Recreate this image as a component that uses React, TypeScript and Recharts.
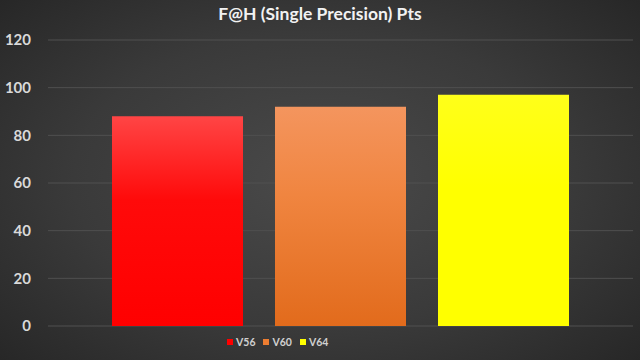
import React from 'react';
import { BarChart, Bar, XAxis, YAxis, CartesianGrid, Legend } from 'recharts';

const title = 'F@H (Single Precision) Pts';
const seriesNames = ['V56', 'V60', 'V64'];
const seriesValues = [88, 92, 97];
const seriesColors = ['#ff0000', '#ed7d31', '#ffff00'];
const yTicks = [0, 20, 40, 60, 80, 100, 120];

const data = [
  seriesNames.reduce((row: Record<string, any>, name, i) => {
    row[name] = seriesValues[i];
    return row;
  }, { name: 'F@H' } as Record<string, any>),
];

const gradients = [
  { id: 'gV56', top: '#ff4545', mid: '#ff0a0a', bottom: '#ff0000' },
  { id: 'gV60', top: '#f4955e', mid: '#f08540', bottom: '#e26b1c' },
  { id: 'gV64', top: '#ffff1a', mid: '#ffff00', bottom: '#ffff00' },
];

const FONT = 'Lato, "Open Sans", sans-serif';

const LegendContent = (props: any) => {
  const { payload } = props;
  return (
    <div style={{ display: 'flex', alignItems: 'center', paddingTop: 10, fontFamily: FONT, fontWeight: 700, fontSize: 10.5, color: '#d0d0d0' }}>
      {(payload || []).map((p: any, i: number) => (
        <div key={i} style={{ display: 'flex', alignItems: 'center', marginRight: 8 }}>
          <div style={{ width: 6, height: 6, background: seriesColors[i], marginRight: 3 }} />
          <span>{p.value}</span>
        </div>
      ))}
    </div>
  );
};

export default function App() {
  return (
    <div
      style={{
        position: 'absolute',
        left: 0,
        top: 0,
        width: 640,
        height: 360,
        background: 'radial-gradient(ellipse 70% 75% at 50% 50%, #4a4a4a 0%, #3a3a3a 55%, #262626 100%)',
        overflow: 'hidden',
      }}
    >
      <div
        style={{
          position: 'absolute',
          top: 3,
          left: 0,
          width: 640,
          textAlign: 'center',
          fontFamily: FONT,
          fontWeight: 700,
          fontSize: 17.5,
          color: '#f2f2f2',
        }}
      >
        {title}
      </div>
      <BarChart
        width={640}
        height={360}
        data={data}
        margin={{ top: 40, right: 7, bottom: 8, left: 0 }}
        barSize={131}
        barGap={32}
      >
        <defs>
          {gradients.map((g) => (
            <linearGradient key={g.id} id={g.id} x1="0" y1="0" x2="0" y2="1">
              <stop offset="0%" stopColor={g.top} />
              <stop offset="40%" stopColor={g.mid} />
              <stop offset="100%" stopColor={g.bottom} />
            </linearGradient>
          ))}
        </defs>
        <CartesianGrid vertical={false} stroke="#505050" strokeWidth={1} />
        <XAxis dataKey="name" tick={false} tickLine={false} axisLine={{ stroke: '#8a8a8a' }} height={0} />
        <YAxis
          domain={[0, 120]}
          ticks={yTicks}
          width={48}
          axisLine={false}
          tickLine={false}
          tickSize={0}
          tickMargin={17}
          tick={{ fill: '#d9d9d9', fontFamily: FONT, fontWeight: 700, fontSize: 15 }}
        />
        <Legend
          verticalAlign="bottom"
          content={<LegendContent />}
          wrapperStyle={{ left: 227, width: 120, height: 26 }}
        />
        {seriesNames.map((name, i) => (
          <Bar key={name} dataKey={name} fill={`url(#${gradients[i].id})`} isAnimationActive={false} />
        ))}
      </BarChart>
    </div>
  );
}
